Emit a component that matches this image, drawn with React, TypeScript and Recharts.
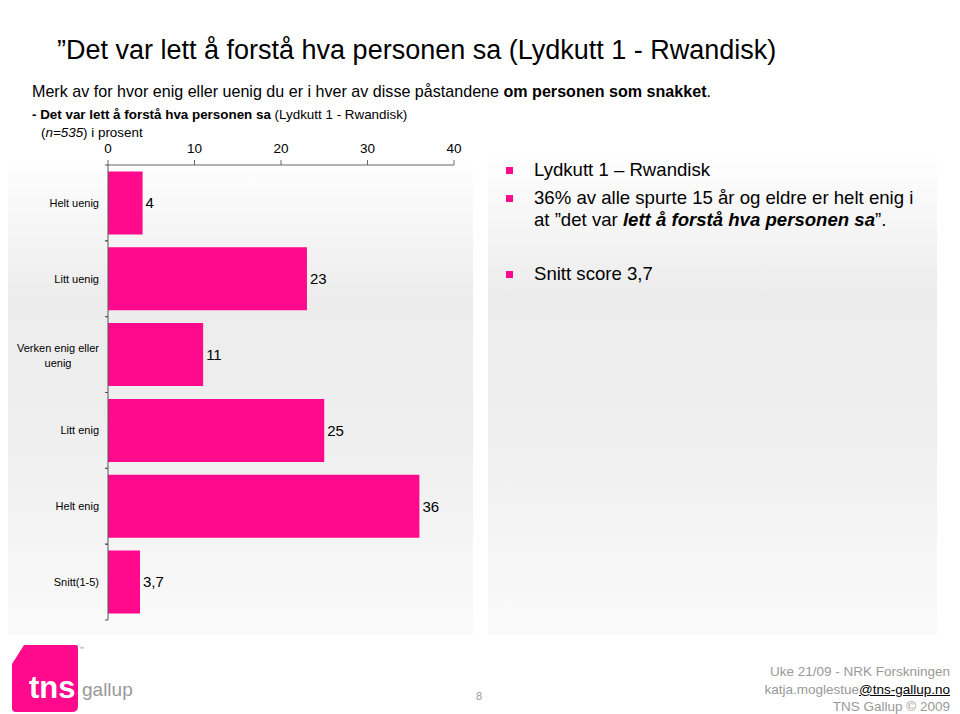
import { BarChart, Bar, XAxis, YAxis, LabelList } from "recharts";

const categories = [
    "Helt uenig",
    "Litt uenig",
    "Verken enig eller\nuenig",
    "Litt enig",
    "Helt enig",
    "Snitt(1-5)",
];
const values = [4, 23, 11, 25, 36, 3.7];
const xTicks = [0, 10, 20, 30, 40];

const data = categories.map((name, i) => ({ name, value: values[i] }));

const PINK = "#FF0A8C";
const FONT = "Arial, 'Liberation Sans', sans-serif";

const CategoryTick = (props: any) => {
    const { x, y, payload } = props;
    const lines = String(payload.value).split("\n");
    const half = payload.offset || 0;
    const axisX = x + 9;
    return (
        <g>
            {half > 0 && (
                <>
                    <line x1={axisX - 3} x2={axisX} y1={y - half} y2={y - half} stroke="#555" />
                    <line x1={axisX - 3} x2={axisX} y1={y + half} y2={y + half} stroke="#555" />
                </>
            )}
            {lines.length === 1 ? (
                <text x={x} y={y} dy={4} textAnchor="end" fontSize={11} fontFamily={FONT} fill="#000">
                    {lines[0]}
                </text>
            ) : (
                <text x={x - 41} y={y} textAnchor="middle" fontSize={11} fontFamily={FONT} fill="#000">
                    {lines.map((l, i) => (
                        <tspan key={i} x={x - 41} dy={i === 0 ? -3 : 15}>
                            {l}
                        </tspan>
                    ))}
                </text>
            )}
        </g>
    );
};

const Bullet = ({ top }: { top: number }) => (
    <div
        style={{
            position: "absolute",
            left: 506,
            top,
            width: 7,
            height: 7,
            background: PINK,
        }}
    />
);

const panelBg =
    "linear-gradient(to bottom, #ffffff 0%, #ececec 30%, #efefef 60%, #fafafa 100%)";

const rightText = {
    position: "absolute" as const,
    left: 534,
    fontSize: 18.6,
    lineHeight: "22px",
    color: "#000",
    whiteSpace: "nowrap" as const,
};

export default function App() {
    return (
        <div
            style={{
                position: "absolute",
                left: 0,
                top: 0,
                width: 960,
                height: 714,
                background: "#fff",
                fontFamily: FONT,
                overflow: "hidden",
            }}
        >
            {/* panels */}
            <div style={{ position: "absolute", left: 8, top: 158, width: 465, height: 477, background: panelBg }} />
            <div style={{ position: "absolute", left: 488, top: 150, width: 449, height: 485, background: panelBg }} />

            <div style={{ position: "absolute", left: 57, top: 35, fontSize: 27, whiteSpace: "nowrap", color: "#000" }}>
                ”Det var lett å forstå hva personen sa (Lydkutt 1 - Rwandisk)
            </div>
            <div style={{ position: "absolute", left: 32, top: 82, fontSize: 16.1, whiteSpace: "nowrap", color: "#000" }}>
                Merk av for hvor enig eller uenig du er i hver av disse påstandene{" "}
                <b>om personen som snakket</b>.
            </div>
            <div style={{ position: "absolute", left: 32, top: 107, fontSize: 13.4, whiteSpace: "nowrap", color: "#000" }}>
                <b>- Det var lett å forstå hva personen sa</b> (Lydkutt 1 - Rwandisk)
            </div>
            <div style={{ position: "absolute", left: 41, top: 125, fontSize: 13.4, whiteSpace: "nowrap", color: "#000" }}>
                (<i>n=535</i>) i prosent
            </div>

            <div style={{ position: "absolute", left: 0, top: 0 }}>
                <BarChart
                    width={480}
                    height={640}
                    layout="vertical"
                    data={data}
                    margin={{ top: 135, right: 26, bottom: 20, left: 0 }}
                    barCategoryGap="8.5%"
                >
                    <XAxis
                        type="number"
                        orientation="top"
                        domain={[0, 40]}
                        ticks={xTicks}
                        tickSize={5}
                        tickMargin={7}
                        axisLine={{ stroke: "#666" }}
                        tickLine={{ stroke: "#666" }}
                        tick={{ fontSize: 13.5, fill: "#000", fontFamily: FONT }}
                        height={30}
                    />
                    <YAxis
                        type="category"
                        dataKey="name"
                        width={108}
                        tickSize={3}
                        tickMargin={6}
                        tickLine={false}
                        axisLine={{ stroke: "#555" }}
                        tick={<CategoryTick />}
                        interval={0}
                    />
                    <Bar dataKey="value" fill={PINK} isAnimationActive={false}>
                        <LabelList
                            dataKey="value"
                            position="right"
                            offset={3}
                            fontSize={15}
                            fill="#000"
                            fontFamily={FONT}
                            formatter={(v: any) => String(v).replace(".", ",")}
                        />
                    </Bar>
                </BarChart>
            </div>

            {/* right text */}
            <Bullet top={167} />
            <Bullet top={195} />
            <Bullet top={271} />
            <div style={{ ...rightText, top: 159 }}>Lydkutt 1 – Rwandisk</div>
            <div style={{ ...rightText, top: 187 }}>
                36% av alle spurte 15 år og eldre er helt enig i
                <br />
                at ”det var <b><i>lett å forstå hva personen sa</i></b>”.
            </div>
            <div style={{ ...rightText, top: 263 }}>Snitt score 3,7</div>

            {/* footer logo */}
            <svg style={{ position: "absolute", left: 10, top: 640 }} width={140} height={74}>
                <path d="M14 5 L66 5 Q68 5 68 8 L68 66 Q68 72 62 72 L6 72 Q2 72 2 68 L2 24 Z" fill={PINK} />
                <text x={69} y={10} fontSize={5} fill="#888" fontFamily={FONT}>™</text>
                <text x={19} y={58} fontSize={31} fill="#fff" fontWeight="bold" fontFamily={FONT}>tns</text>
                <text x={72} y={56} fontSize={19} fill="#999" fontFamily={FONT}>gallup</text>
            </svg>
            <div style={{ position: "absolute", left: 476, top: 690, fontSize: 11, color: "#999" }}>8</div>
            <div
                style={{
                    position: "absolute",
                    right: 10,
                    top: 663,
                    fontSize: 13.5,
                    lineHeight: "17.5px",
                    color: "#999",
                    textAlign: "right",
                    whiteSpace: "nowrap",
                }}
            >
                Uke 21/09 - NRK Forskningen
                <br />
                katja.moglestue<span style={{ color: "#000", textDecoration: "underline" }}>@tns-gallup.no</span>
                <br />
                TNS Gallup © 2009
            </div>
        </div>
    );
}
